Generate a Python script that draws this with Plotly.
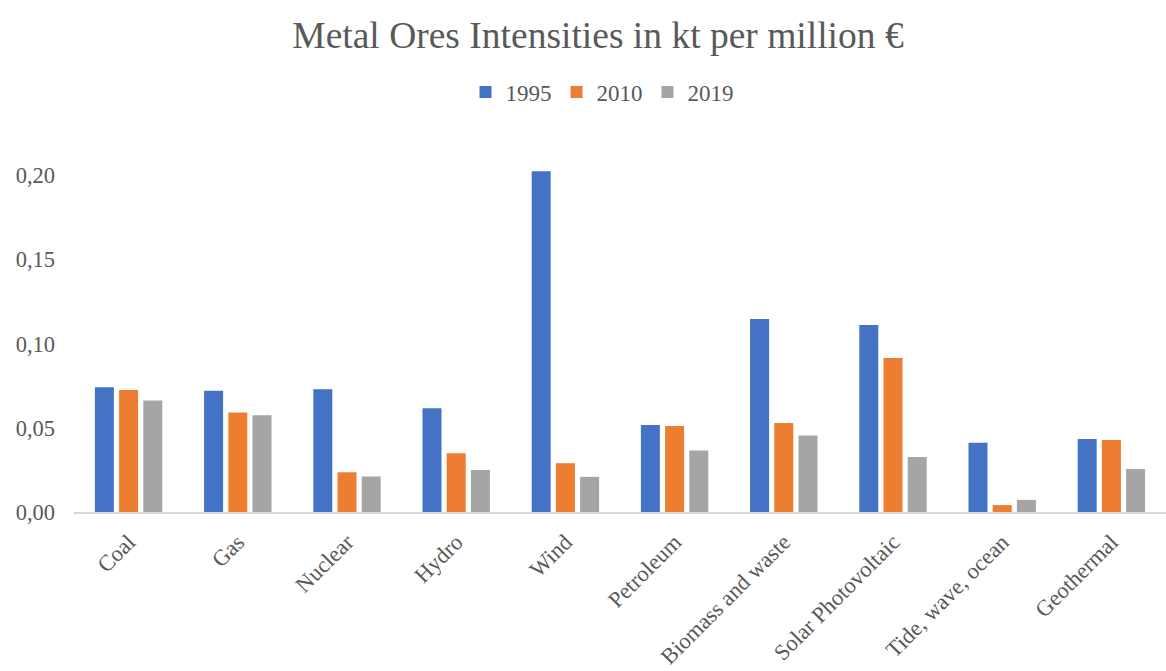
import plotly.graph_objects as go

categories = ["Coal", "Gas", "Nuclear", "Hydro", "Wind", "Petroleum",
              "Biomass and waste", "Solar Photovoltaic", "Tide, wave, ocean", "Geothermal"]
years = ["1995", "2010", "2019"]
v1995 = [0.0741, 0.0721, 0.0729, 0.0616, 0.2025, 0.0517, 0.1147, 0.1111, 0.0411, 0.0434]
v2010 = [0.0725, 0.0592, 0.0236, 0.0349, 0.0290, 0.0511, 0.0529, 0.0915, 0.0041, 0.0428]
v2019 = [0.0662, 0.0575, 0.0211, 0.0250, 0.0209, 0.0365, 0.0454, 0.0327, 0.0072, 0.0256]
colors = ["#4472C4", "#ED7D31", "#A5A5A5"]

FONT = "Liberation Serif"
TXT = "#595959"

fig = go.Figure()
for name, vals, col in zip(years, [v1995, v2010, v2019], colors):
    fig.add_trace(go.Bar(x=categories, y=vals, name=name, marker_color=col,
                         marker_line_width=0))

W, H = 1166, 671
L = 74
top, bottom_y = 160, 512.5
fig.update_layout(
    width=W, height=H,
    margin=dict(l=L, r=0, t=top, b=H - bottom_y, autoexpand=False),
    paper_bgcolor="white", plot_bgcolor="white",
    separators=",.",
    font=dict(family=FONT, color=TXT, size=22),
    title=dict(text="Metal Ores Intensities in kt per million €",
               x=598 / W, xref="container", xanchor="center",
               y=1 - 35 / H, yref="container", yanchor="middle",
               font=dict(family=FONT, size=37.5, color=TXT)),
    legend=dict(orientation="h", x=(602 - L) / (W - L), xanchor="center",
                y=(bottom_y - 92) / (bottom_y - top), yanchor="middle",
                font=dict(family=FONT, size=23, color=TXT),
                itemwidth=30, traceorder="normal"),
    barmode="group", bargap=0.335, bargroupgap=0.215,
    showlegend=True,
)
fig.update_xaxes(showline=True, linecolor="#D9D9D9", linewidth=2,
                 tickangle=-45, showgrid=False, ticks="", automargin=False,
                 ticklabelstandoff=6,
                 tickfont=dict(family=FONT, size=22.5, color=TXT))
fig.update_yaxes(range=[0, (bottom_y - top) / 1685], dtick=0.05, tick0=0,
                 tickformat=".2f", showgrid=False, zeroline=False,
                 showline=False, ticks="", ticklabelstandoff=18, automargin=False,
                 tickfont=dict(family=FONT, size=22.5, color=TXT))

fig.write_html("out.html")
